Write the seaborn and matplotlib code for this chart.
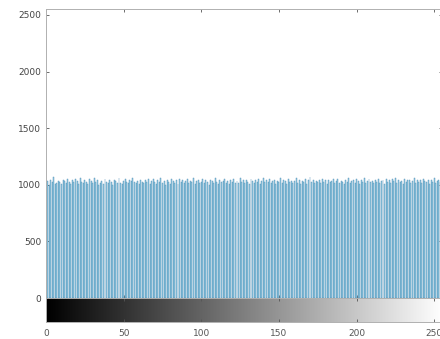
import numpy as np
import matplotlib
matplotlib.use("Agg")
import matplotlib.pyplot as plt
import seaborn as sns

# gray level histogram of a 512x512 image (about 1024 pixels per level)
levels = list(range(256))
counts = [
    1012, 1030, 998, 1041, 1022, 1065, 1008, 1019, 1036, 1027, 1003, 1044, 1031, 1015, 1052, 1026,
    1009, 1038, 1021, 1047, 1033, 1011, 1056, 1024, 1018, 1040, 1029, 1005, 1048, 1035, 1014, 1061,
    1025, 1042, 996, 1019, 1034, 1008, 1050, 1027, 1013, 1039, 1022, 1001, 1045, 1030, 1017, 1058,
    1020, 1006, 1037, 1049, 1026, 1012, 1043, 1031, 1060, 1023, 1015, 1036, 1004, 1046, 1028, 1018,
    1039, 1024, 1053, 1010, 1032, 1047, 1021, 1007, 1041, 1029, 1064, 1016, 1035, 1002, 1044, 1027,
    1011, 1050, 1033, 1020, 1038, 1009, 1055, 1026, 1042, 1014, 1031, 1048, 1019, 1037, 1023, 1059,
    1005, 1034, 1046, 1017, 1029, 1052, 1013, 1040, 1025, 1000, 1043, 1032, 1018, 1057, 1028, 1010,
    1045, 1022, 1036, 1054, 1015, 1030, 1003, 1041, 1027, 1049, 1020, 1035, 1012, 1062, 1024, 1039,
    1016, 1044, 1028, 1007, 1051, 1033, 1019, 1038, 1024, 1047, 1010, 1034, 1056, 1021, 1040, 1029,
    1053, 1018, 1031, 1045, 1006, 1037, 1025, 1060, 1014, 1042, 1030, 1009, 1048, 1023, 1035, 1019,
    1032, 1057, 1020, 1043, 1011, 1036, 1026, 1050, 1004, 1039, 1067, 1022, 1046, 1015, 1033, 1028,
    1041, 1013, 1055, 1027, 1038, 1008, 1044, 1021, 1035, 1052, 1017, 1030, 1048, 1012, 1037, 1024,
    1007, 1046, 1029, 1058, 1016, 1034, 1043, 1020, 1051, 1031, 1003, 1040, 1026, 1063, 1018, 1036,
    1049, 1022, 1037, 1012, 1045, 1028, 1054, 1019, 1033, 1041, 1008, 1050, 1025, 1038, 1014, 1047,
    1030, 1059, 1017, 1042, 1026, 1035, 1011, 1053, 1024, 1039, 1046, 1015, 1032, 1061, 1020, 1044,
    1027, 1038, 1013, 1050, 1034, 1021, 1045, 1009, 1040, 1029, 1056, 1018, 1036, 1043, 1023, 1031,
]
y_ticks = [0, 500, 1000, 1500, 2000, 2500]
x_ticks = [0, 50, 100, 150, 200, 250]

sns.set_style("white")
fig = plt.figure(figsize=(4.40, 3.39), dpi=100)

W, H = 440, 339
ax = fig.add_axes([46 / W, 1 - 298 / H, 396 / W, 289 / H])
cax = fig.add_axes([46 / W, 1 - 322 / H, 396 / W, 24 / H])

sns.barplot(x=levels, y=counts, color="#9fd4ea", edgecolor="#4a8bb2",
            linewidth=0.3, width=0.62, saturation=1, ax=ax)
ax.set_xlim(0, 255)
ax.set_ylim(0, 2553)
ax.set_xticks(x_ticks)
ax.set_xticklabels([])
ax.set_yticks(y_ticks)
ax.set_yticklabels([str(t) for t in y_ticks])
ax.set_xlabel("")
ax.set_ylabel("")
ax.tick_params(direction="in", length=2.5, width=0.6, colors="#555555",
               labelsize=6.5, labelcolor="#444444", top=True, right=True,
               left=True, bottom=True)
for s in ax.spines.values():
    s.set_color("#b0b0b0")
    s.set_linewidth(0.7)

grad = np.arange(256).reshape(1, -1)
cax.imshow(grad, cmap="gray", aspect="auto", extent=(0, 255, 0, 1))
cax.set_xlim(0, 255)
cax.set_yticks([])
cax.set_xticks(x_ticks)
cax.set_xticklabels([str(t) for t in x_ticks])
cax.tick_params(axis="x", direction="in", length=2.5, width=0.6,
                colors="#555555", labelsize=6.5, labelcolor="#555555",
                top=True, bottom=True, pad=5)
for s in cax.spines.values():
    s.set_color("#b0b0b0")
    s.set_linewidth(0.7)

fig.savefig("out.png", dpi=100)
